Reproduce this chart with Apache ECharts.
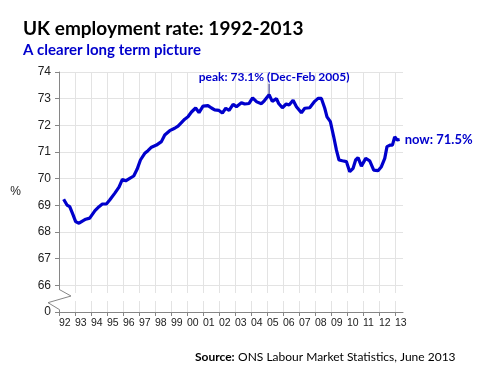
<!DOCTYPE html>
<html>
<head>
<meta charset="utf-8">
<script src="https://cdn.jsdelivr.net/npm/echarts@6/dist/echarts.min.js"></script>
<style>html,body{margin:0;padding:0;background:#fff}#c{width:484px;height:373px}</style>
</head>
<body>
<div id="c"></div>
<script>
// ---- data ----
var yearLabels = ['92','93','94','95','96','97','98','99','00','01','02','03','04','05','06','07','08','09','10','11','12','13'];
var dates = [1992.29,1992.50,1992.67,1992.88,1993.04,1993.25,1993.46,1993.67,1993.92,1994.04,1994.25,1994.50,1994.71,1994.96,1995.17,1995.48,1995.75,1995.96,1996.17,1996.42,1996.67,1996.88,1997.09,1997.36,1997.56,1997.78,1998.09,1998.40,1998.61,1998.92,1999.23,1999.44,1999.65,1999.86,2000.06,2000.28,2000.54,2000.75,2001.00,2001.31,2001.53,2001.73,2002.00,2002.21,2002.42,2002.63,2002.88,2003.09,2003.40,2003.61,2003.88,2004.10,2004.36,2004.65,2004.83,2005.13,2005.33,2005.59,2005.73,2005.96,2006.20,2006.38,2006.63,2006.84,2007.15,2007.36,2007.67,2007.98,2008.19,2008.40,2008.61,2008.75,2008.96,2009.17,2009.34,2009.50,2009.71,2009.96,2010.17,2010.38,2010.54,2010.69,2010.90,2011.17,2011.42,2011.67,2011.94,2012.15,2012.36,2012.50,2012.71,2012.84,2012.98,2013.13,2013.29];
var rates = [69.23,69.01,68.95,68.64,68.39,68.33,68.41,68.48,68.52,68.52,68.80,68.95,69.05,69.05,69.20,69.45,69.68,69.97,69.92,70.01,70.10,70.35,70.70,70.95,71.05,71.18,71.26,71.39,71.64,71.80,71.89,71.97,72.10,72.23,72.32,72.50,72.65,72.48,72.72,72.74,72.65,72.58,72.56,72.46,72.64,72.56,72.79,72.70,72.85,72.80,72.82,73.03,72.88,72.81,72.92,73.15,72.90,73.00,72.82,72.66,72.80,72.76,72.94,72.70,72.47,72.64,72.66,72.90,73.01,73.01,72.64,72.32,72.14,71.57,71.07,70.70,70.67,70.64,70.26,70.39,70.70,70.79,70.47,70.76,70.67,70.32,70.30,70.45,70.76,71.20,71.26,71.26,71.57,71.45,71.47];
var yTicks = [65,66,67,68,69,70,71,72,73,74];
var titleText = 'UK employment rate: 1992-2013';
var subtitleText = 'A clearer long term picture';
var peakText = 'peak: 73.1% (Dec-Feb 2005)';
var nowText = 'now: 71.5%';
var yName = '%';

var BLUE = '#0000cc';
var GREY = '#868686';
var GRID = '#e3e3e3';

var cats = [];
yearLabels.forEach(function (l) { cats.push(l); cats.push(''); });
var seriesData = dates.map(function (d, i) { return [d, rates[i]]; });

var chart = echarts.init(document.getElementById('c'), null, {renderer: 'canvas'});
chart.setOption({
  animation: false,
  backgroundColor: '#fff',
  title: [
    {text: titleText, left: 18, top: 14, textStyle: {fontFamily: 'Lato', fontWeight: 'bold', fontSize: 19, color: '#000'}},
    {text: subtitleText, left: 18, top: 38, textStyle: {fontFamily: 'Lato', fontWeight: 'bold', fontSize: 15, color: BLUE}}
  ],
  grid: {left: 59, top: 72, width: 344, height: 240, containLabel: false},
  xAxis: [
    {type: 'value', min: 1992, max: 2013.5, show: false},
    {type: 'category', position: 'bottom', data: cats, boundaryGap: false,
     axisLine: {show: true, lineStyle: {color: GREY}},
     axisTick: {show: true, interval: 1, length: 4, lineStyle: {color: GREY}},
     axisLabel: {interval: 1, align: 'left', margin: 6, fontFamily: 'Liberation Sans', fontSize: 10.5, color: '#222'},
     splitLine: {show: true, interval: 1, lineStyle: {color: GRID}}}
  ],
  yAxis: {
    type: 'value', min: 65, max: 74, interval: 1,
    name: yName, nameLocation: 'middle', nameRotate: 0, nameGap: 38,
    nameTextStyle: {fontFamily: 'Liberation Sans', fontSize: 12, color: '#222'},
    axisLine: {show: true, lineStyle: {color: GREY}},
    axisTick: {show: true, length: 4, lineStyle: {color: GREY}},
    axisLabel: {margin: 8, fontFamily: 'Liberation Sans', fontSize: 12, color: '#222',
      formatter: function (v) { return v === yTicks[0] ? '0' : String(v); }},
    splitLine: {show: true, lineStyle: {color: GRID}}
  },
  series: [{
    type: 'line', xAxisIndex: 0, yAxisIndex: 0, data: seriesData,
    showSymbol: false, symbol: 'none', smooth: false,
    lineStyle: {color: BLUE, width: 3.2},
    endLabel: {show: true, formatter: nowText, distance: 5, color: BLUE,
      fontFamily: 'Lato', fontWeight: 'bold', fontSize: 13},
    z: 3
  }]
});

function px(x, y) { return chart.convertToPixel({xAxisIndex: 0, yAxisIndex: 0}, [x, y]); }
var ax = px(1992, 65)[0];
var axEnd = px(2013.5, 65)[0];
function py(v) { return px(1992, v)[1]; }

// peak
var pi = 0;
rates.forEach(function (r, i) { if (r > rates[pi]) pi = i; });
var pk = px(dates[pi], rates[pi]);

chart.setOption({
  graphic: [
    {type: 'rect', z: 50, silent: true, shape: {x: ax + 1, y: py(65.71), width: axEnd - ax, height: py(65.41) - py(65.71)}, style: {fill: '#fff'}},
    {type: 'rect', z: 50, silent: true, shape: {x: ax - 2, y: py(65.85), width: 4, height: py(65.1) - py(65.85)}, style: {fill: '#fff'}},
    {type: 'polyline', z: 51, silent: true, shape: {points: [[ax, py(65.85)], [ax + 12, py(65.6)], [ax - 11, py(65.35)], [ax, py(65.1)]]}, style: {stroke: GREY, lineWidth: 1, fill: null}},
    {type: 'line', z: 51, silent: true, shape: {x1: pk[0], y1: pk[1] - 11, x2: pk[0], y2: pk[1]}, style: {stroke: '#1a1a7a', lineWidth: 1}},
    {type: 'text', z: 51, silent: true, x: pk[0] + 5, y: pk[1] - 18, style: {text: peakText, fill: BLUE, font: 'bold 12px Lato', align: 'center', verticalAlign: 'middle'}},
    {type: 'text', z: 51, silent: true, x: 195, y: 357, style: {
      text: '{b|Source:} {r|ONS Labour Market Statistics, June 2013}', verticalAlign: 'middle', align: 'left',
      rich: {b: {fontFamily: 'Lato', fontWeight: 'bold', fontSize: 12, fill: '#000'}, r: {fontFamily: 'Lato', fontSize: 12, fill: '#000'}}}}
  ]
});
</script>
</body>
</html>
